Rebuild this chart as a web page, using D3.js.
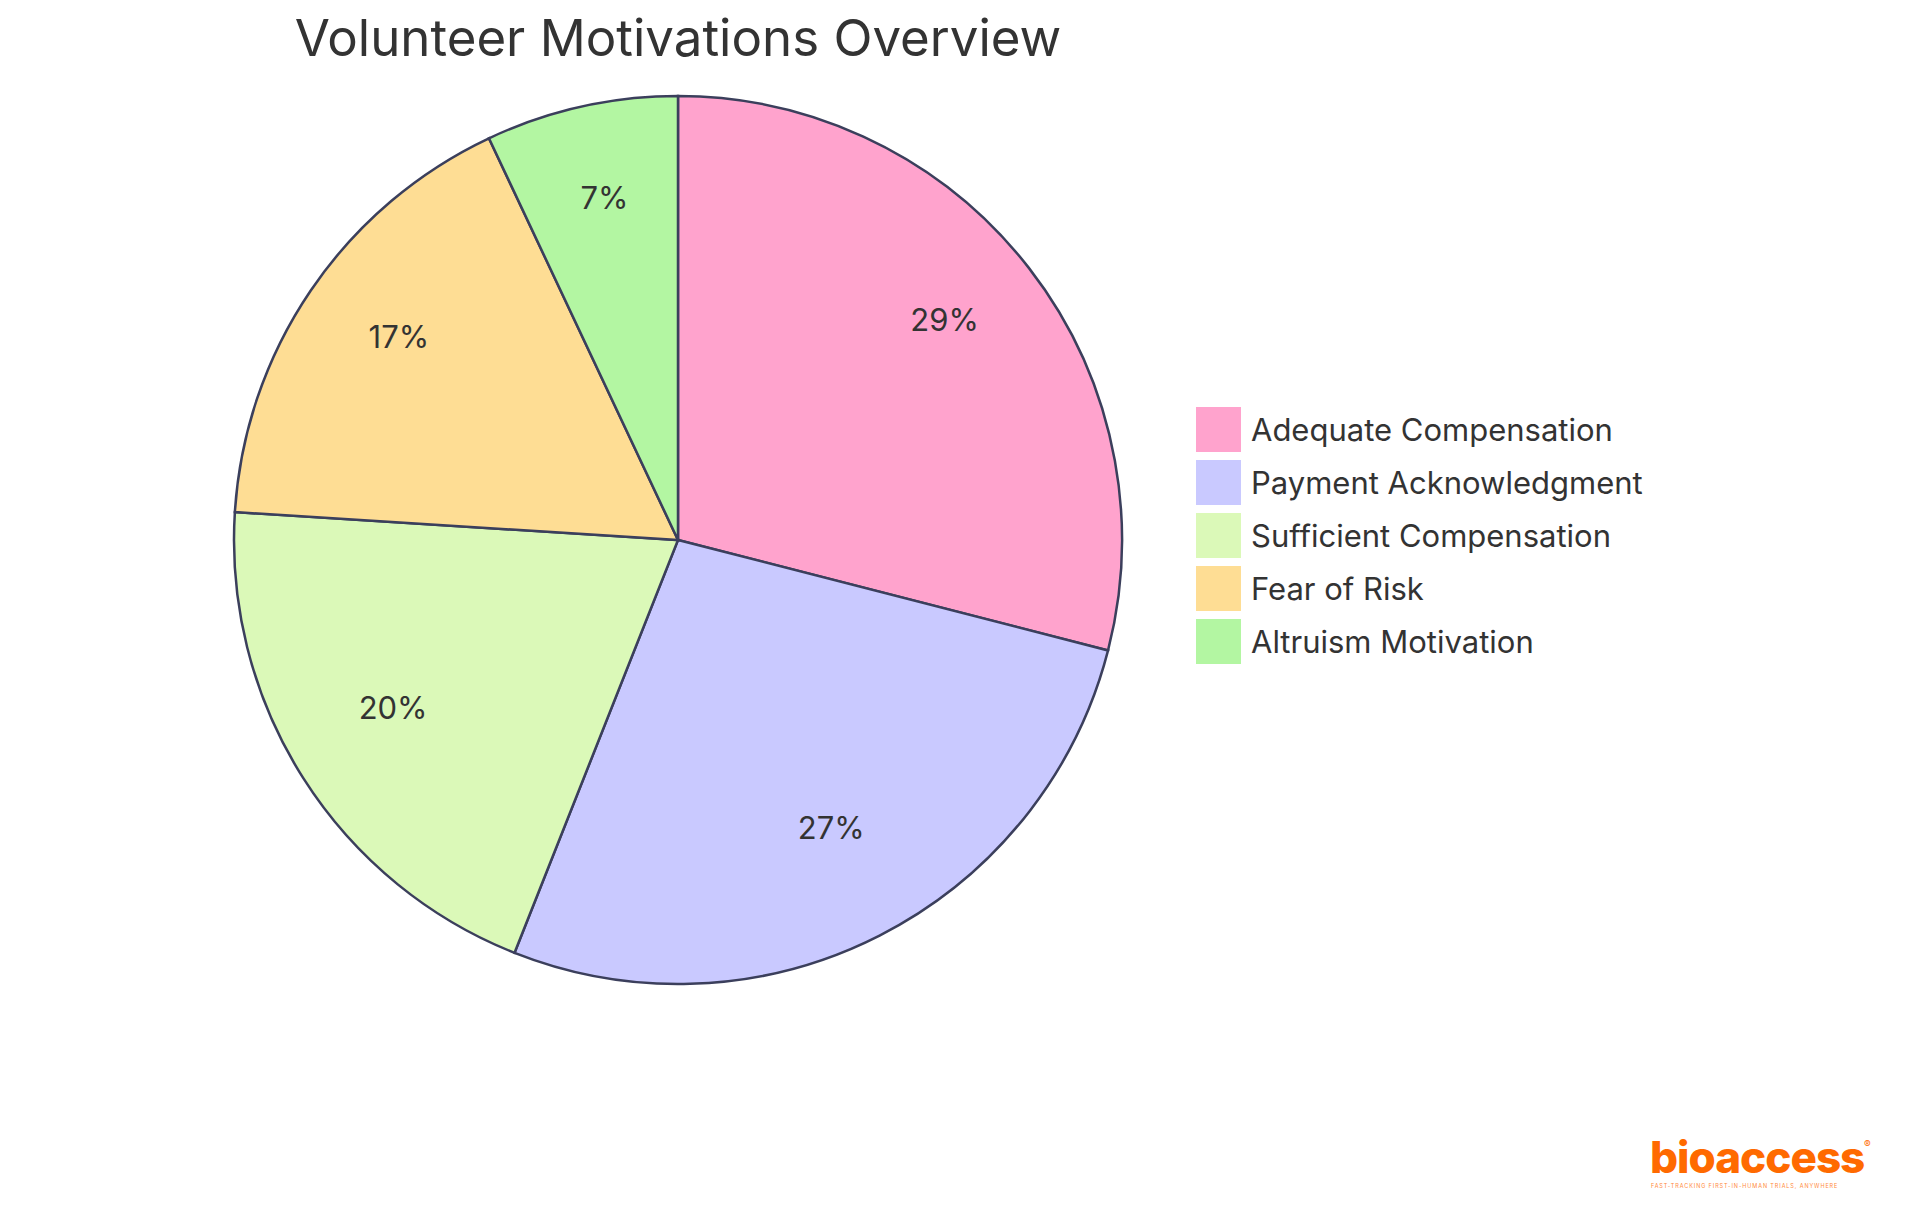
<!DOCTYPE html><html><head><meta charset="utf-8"><script src="https://cdn.jsdelivr.net/npm/d3@7"></script>
<style>body{margin:0;background:#fff}</style></head><body><svg id="c" width="1920" height="1215"></svg>
<script>
const categories=["Adequate Compensation","Payment Acknowledgment","Sufficient Compensation","Fear of Risk","Altruism Motivation"];
const values=[29,27,20,17,7];
const colors=["#FFA3CD","#C9C9FF","#DBF9B8","#FEDD94","#B3F6A2"];
const svg=d3.select("#c"),font="Inter, 'Open Sans', sans-serif";
const cx=678,cy=540,R=444;
svg.append("text").attr("x",678).attr("y",56).attr("text-anchor","middle").attr("font-family",font).attr("font-size",51).attr("fill","#333").text("Volunteer Motivations Overview");
const pie=d3.pie().sort(null).value(d=>d)(values);
const arc=d3.arc().innerRadius(0).outerRadius(R);
const g=svg.append("g").attr("transform",`translate(${cx},${cy})`);
g.selectAll("path").data(pie).join("path").attr("d",arc).attr("fill",(d,i)=>colors[i]).attr("stroke","#3b3f5c").attr("stroke-width",2.5);
const la=d3.arc().innerRadius(R*0.76).outerRadius(R*0.76);
g.selectAll("text").data(pie).join("text").attr("transform",d=>{const c=la.centroid(d);return `translate(${c[0]},${c[1]-13})`;}).attr("text-anchor","middle").attr("dy","0.35em").attr("font-family",font).attr("font-size",31).attr("fill","#333").text(d=>d.data+"%");
const lg=svg.append("g").attr("transform","translate(1196,407)");
categories.forEach((c,i)=>{const r=lg.append("g").attr("transform",`translate(0,${i*53})`);
r.append("rect").attr("width",45).attr("height",45).attr("fill",colors[i]);
r.append("text").attr("x",55).attr("y",23).attr("dy","0.35em").attr("font-family",font).attr("font-size",31).attr("fill","#333").text(c);});
svg.append("text").attr("x",1650).attr("y",1173).attr("font-family",font).attr("font-weight",800).attr("font-size",44).attr("fill","#FF6A00").attr("letter-spacing",-1).text("bioaccess");
svg.append("text").attr("x",1864).attr("y",1148).attr("font-family",font).attr("font-size",10).attr("fill","#FF6A00").text("®");
svg.append("text").attr("x",1651).attr("y",1188).attr("font-family",font).attr("font-size",5.5).attr("fill","#FF8A3A").attr("letter-spacing",0.9).text("FAST-TRACKING FIRST-IN-HUMAN TRIALS, ANYWHERE");
</script></body></html>
